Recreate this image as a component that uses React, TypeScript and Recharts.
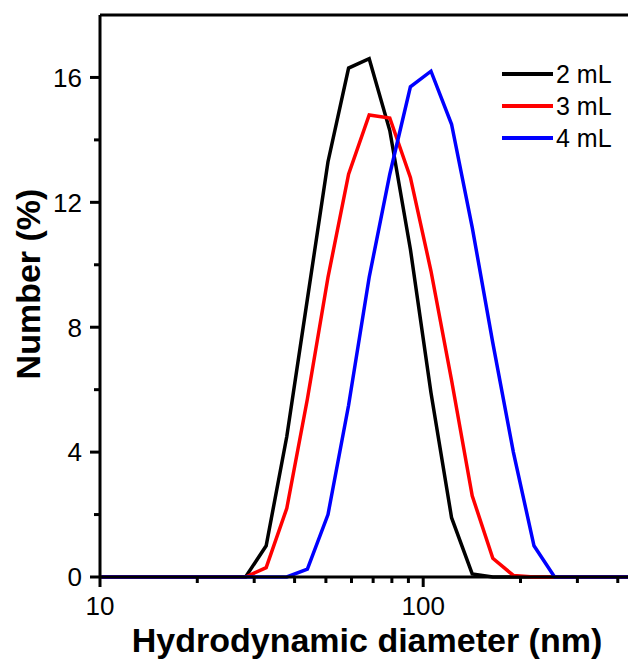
import { LineChart, Line, XAxis, YAxis, ReferenceLine } from 'recharts';

// DLS size bins (nm), log spaced
const sizes = [10.1, 11.7, 13.54, 15.69, 18.17, 21.04, 24.36, 28.21, 32.67, 37.84, 43.82, 50.75, 58.77, 68.06, 78.82, 91.28, 105.7, 122.4, 141.8, 164.2, 190.1, 220.2, 255.0, 295.3, 342.0, 396.1, 458.7];

const ml2 = [0, 0, 0, 0, 0, 0, 0, 0, 1.0, 4.5, 8.9, 13.3, 16.3, 16.6, 14.3, 10.5, 5.9, 1.9, 0.1, 0, 0, 0, 0, 0, 0, 0, 0];
const ml3 = [0, 0, 0, 0, 0, 0, 0, 0, 0.3, 2.2, 5.7, 9.6, 12.9, 14.8, 14.7, 12.8, 9.8, 6.3, 2.6, 0.6, 0.05, 0, 0, 0, 0, 0, 0];
const ml4 = [0, 0, 0, 0, 0, 0, 0, 0, 0, 0, 0.25, 2.0, 5.5, 9.6, 12.9, 15.7, 16.2, 14.5, 11.2, 7.5, 4.0, 1.0, 0, 0, 0, 0, 0];

const seriesNames = ['2 mL', '3 mL', '4 mL'];
const seriesColors = ['#000000', '#ff0000', '#0000ff'];

const xMajorTicks = [10, 100];
const xMinorTicks = [20, 30, 40, 50, 60, 70, 80, 90, 200, 300, 400];
const yMajorTicks = [0, 4, 8, 12, 16];
const yMinorTicks = [2, 6, 10, 14];

const data = sizes.map((d, i) => ({ d, a: ml2[i], b: ml3[i], c: ml4[i] }));
const keys = ['a', 'b', 'c'];
const xTicks = [...xMajorTicks, ...xMinorTicks].sort((a, b) => a - b);
const yTicks = [...yMajorTicks, ...yMinorTicks].sort((a, b) => a - b);

const font = '"Liberation Sans", Arial, sans-serif';
const xDomain = [10, 458.7];
const MAJOR = 10;
const MINOR = 6;
const GAP = 10;

// one tick renderer per axis: long mark + label for majors, short mark for minors
const XTick = (p: any) => {
    const v = p.payload.value;
    const major = xMajorTicks.includes(v);
    const y0 = p.y - GAP - MAJOR;
    return (
        <g>
            <line x1={p.x} x2={p.x} y1={y0} y2={y0 + (major ? MAJOR : MINOR)} stroke="#000" strokeWidth={3} />
            {major && (
                <text x={p.x} y={p.y} dy="0.71em" textAnchor="middle" fill="#000" fontSize={26} fontFamily={font}>
                    {v}
                </text>
            )}
        </g>
    );
};
const YTick = (p: any) => {
    const v = p.payload.value;
    const major = yMajorTicks.includes(v);
    const x0 = p.x + 8 + MAJOR;
    return (
        <g>
            <line x1={x0 - (major ? MAJOR : MINOR)} x2={x0} y1={p.y} y2={p.y} stroke="#000" strokeWidth={3} />
            {major && (
                <text x={p.x} y={p.y} dy="0.36em" textAnchor="end" fill="#000" fontSize={26} fontFamily={font}>
                    {v}
                </text>
            )}
        </g>
    );
};

export default function App() {
    return (
        <div style={{ position: 'absolute', left: 0, top: 0, width: 628, height: 659, overflow: 'hidden', background: '#fff', fontFamily: font }}>
            <LineChart width={637} height={659} data={data} margin={{ top: 15, right: 0, bottom: 0, left: 0 }}>
                <XAxis
                    dataKey="d"
                    type="number"
                    scale="log"
                    domain={xDomain}
                    ticks={xTicks}
                    interval={0}
                    tickSize={MAJOR}
                    tickMargin={GAP}
                    height={82}
                    stroke="#000"
                    strokeWidth={3}
                    tickLine={{ stroke: 'none' }}
                    tick={XTick}
                    label={() => (
                        <text x={367} y={652} textAnchor="middle" fill="#000" fontSize={34} fontWeight="bold" fontFamily={font}>
                            Hydrodynamic diameter (nm)
                        </text>
                    )}
                />
                <YAxis
                    type="number"
                    domain={[0, 18]}
                    ticks={yTicks}
                    interval={0}
                    tickSize={MAJOR}
                    tickMargin={8}
                    width={100}
                    stroke="#000"
                    strokeWidth={3}
                    tickLine={{ stroke: 'none' }}
                    tick={YTick}
                    label={() => (
                        <text x={40} y={284} transform="rotate(-90 40 284)" textAnchor="middle" fill="#000" fontSize={34} fontWeight="bold" fontFamily={font}>
                            Number (%)
                        </text>
                    )}
                />
                <ReferenceLine y={18} stroke="#000" strokeWidth={3} />
                {keys.map((k, i) => (
                    <Line
                        key={k}
                        type="linear"
                        dataKey={k}
                        name={seriesNames[i]}
                        stroke={seriesColors[i]}
                        strokeWidth={3.5}
                        dot={false}
                        isAnimationActive={false}
                    />
                ))}
            </LineChart>
            <div style={{ position: 'absolute', left: 502, top: 58 }}>
                {seriesNames.map((n, i) => (
                    <div key={n} style={{ display: 'flex', alignItems: 'center', height: 32 }}>
                        <div style={{ width: 51, height: 4, background: seriesColors[i] }} />
                        <span style={{ marginLeft: 3, fontSize: 25, color: '#000', lineHeight: '32px' }}>{n}</span>
                    </div>
                ))}
            </div>
        </div>
    );
}
